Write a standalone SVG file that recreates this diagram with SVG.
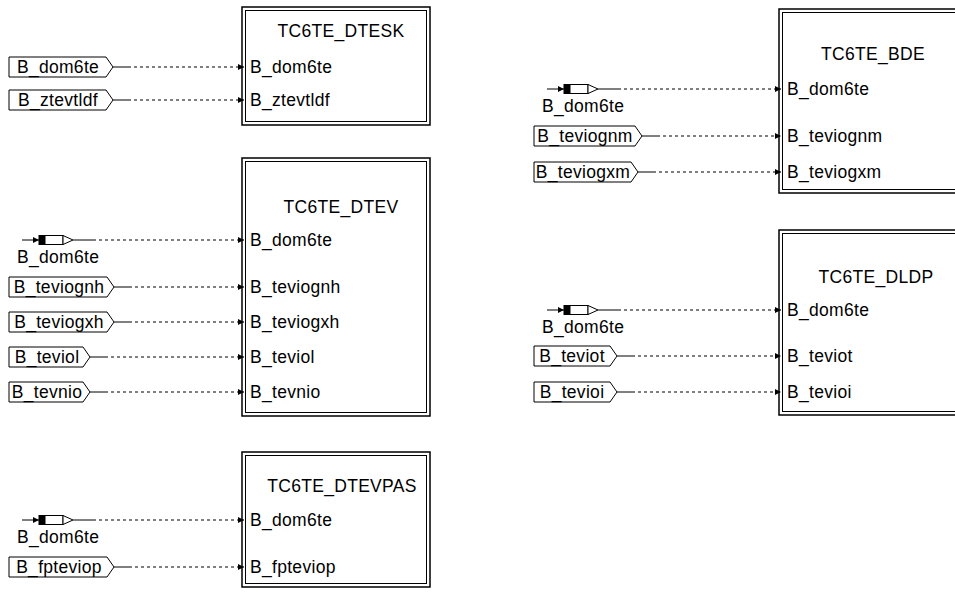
<svg xmlns="http://www.w3.org/2000/svg" width="955" height="592" viewBox="0 0 955 592">
<style>
text{font-family:"Liberation Sans",Arial,sans-serif;font-size:17.5px;letter-spacing:0.3px;fill:#000}
.t{text-anchor:middle}
.m{text-anchor:middle}
.o{fill:#fff;stroke:#000;stroke-width:1.5}
.i{fill:none;stroke:#000;stroke-width:1}
.ib{fill:#fff;stroke:#000;stroke-width:1}
.s{stroke:#000;stroke-width:1;fill:none}
.d{stroke:#000;stroke-width:1;fill:none;stroke-dasharray:3,3;marker-end:url(#ah)}
.blk{fill:#000;stroke:#000;stroke-width:1}
.wht{fill:#fff;stroke:#000;stroke-width:1}
</style>
<defs>
<marker id="ah" markerUnits="userSpaceOnUse" viewBox="0 0 6 6" refX="6" refY="3" markerWidth="6" markerHeight="6" orient="auto"><path d="M0,0 L6,3 L0,6 Z" fill="#000"/></marker>
<marker id="ah2" markerUnits="userSpaceOnUse" viewBox="0 0 6 6" refX="6" refY="3" markerWidth="6" markerHeight="6" orient="auto"><path d="M0,0 L6,3 L0,6 Z" fill="#000"/></marker>
</defs>
<rect width="955" height="592" fill="#fff"/>

<!-- blocks -->
<g id="TC6TE_DTESK">
<rect class="o" x="242" y="7" width="188" height="118"/>
<rect class="i" x="245.5" y="10.5" width="181" height="111"/>
<text class="t" x="341" y="37">TC6TE_DTESK</text>
<text x="250" y="73">B_dom6te</text>
<text x="250" y="106">B_ztevtldf</text>
</g>
<g id="TC6TE_DTEV">
<rect class="o" x="242" y="158" width="188" height="258"/>
<rect class="i" x="245.5" y="161.5" width="181" height="251"/>
<text class="t" x="341" y="213">TC6TE_DTEV</text>
<text x="250" y="246">B_dom6te</text>
<text x="250" y="293">B_teviognh</text>
<text x="250" y="328">B_teviogxh</text>
<text x="250" y="363">B_teviol</text>
<text x="250" y="398">B_tevnio</text>
</g>
<g id="TC6TE_DTEVPAS">
<rect class="o" x="242" y="452" width="188" height="135"/>
<rect class="i" x="245.5" y="455.5" width="181" height="128"/>
<text class="t" x="342" y="492">TC6TE_DTEVPAS</text>
<text x="250" y="526">B_dom6te</text>
<text x="250" y="573">B_fpteviop</text>
</g>
<g id="TC6TE_BDE">
<rect class="o" x="779" y="9" width="188" height="184"/>
<rect class="i" x="782.5" y="12.5" width="181" height="177"/>
<text class="t" x="873" y="60">TC6TE_BDE</text>
<text x="787" y="95">B_dom6te</text>
<text x="787" y="142">B_teviognm</text>
<text x="787" y="178">B_teviogxm</text>
</g>
<g id="TC6TE_DLDP">
<rect class="o" x="779" y="230" width="188" height="185"/>
<rect class="i" x="782.5" y="233.5" width="181" height="178"/>
<text class="t" x="876" y="283">TC6TE_DLDP</text>
<text x="787" y="316">B_dom6te</text>
<text x="787" y="362">B_teviot</text>
<text x="787" y="398">B_tevioi</text>
</g>

<!-- input ports -->
<g id="in_dtesk_dom6te"><path class="ib" d="M9,57 H106 L113,67 L106,77 H9 Z"/><text class="m" x="58" y="73">B_dom6te</text></g>
<g id="in_dtesk_ztevtldf"><path class="ib" d="M9,90 H106 L113,100 L106,110 H9 Z"/><text class="m" x="58" y="106">B_ztevtldf</text></g>

<g id="in_dtev_dom6te"><line class="s" x1="22" y1="240" x2="39" y2="240" marker-end="url(#ah2)"/><rect class="blk" x="39" y="235.5" width="6" height="9"/><rect class="wht" x="45" y="235.5" width="18" height="9"/><path class="wht" d="M63,235.5 L73,240 L63,244.5 Z"/><text x="17" y="263">B_dom6te</text></g>
<g id="in_dtev_teviognh"><path class="ib" d="M9,277 H107 L114,287 L107,297 H9 Z"/><text class="m" x="59" y="293">B_teviognh</text></g>
<g id="in_dtev_teviogxh"><path class="ib" d="M9,312 H107 L114,322 L107,332 H9 Z"/><text class="m" x="59" y="328">B_teviogxh</text></g>
<g id="in_dtev_teviol"><path class="ib" d="M9,347 H83 L90,357 L83,367 H9 Z"/><text class="m" x="47" y="363">B_teviol</text></g>
<g id="in_dtev_tevnio"><path class="ib" d="M9,382 H83 L90,392 L83,402 H9 Z"/><text class="m" x="47" y="398">B_tevnio</text></g>

<g id="in_dtevpas_dom6te"><line class="s" x1="22" y1="520" x2="39" y2="520" marker-end="url(#ah2)"/><rect class="blk" x="39" y="515.5" width="6" height="9"/><rect class="wht" x="45" y="515.5" width="18" height="9"/><path class="wht" d="M63,515.5 L73,520 L63,524.5 Z"/><text x="17" y="543">B_dom6te</text></g>
<g id="in_dtevpas_fpteviop"><path class="ib" d="M9,557 H107 L114,567 L107,577 H9 Z"/><text class="m" x="59" y="573">B_fpteviop</text></g>

<g id="in_bde_dom6te"><line class="s" x1="547" y1="89" x2="564" y2="89" marker-end="url(#ah2)"/><rect class="blk" x="564" y="84.5" width="6" height="9"/><rect class="wht" x="570" y="84.5" width="18" height="9"/><path class="wht" d="M588,84.5 L598,89 L588,93.5 Z"/><text x="542" y="112">B_dom6te</text></g>
<g id="in_bde_teviognm"><path class="ib" d="M534,126 H635 L642,136 L635,146 H534 Z"/><text class="m" x="585" y="142">B_teviognm</text></g>
<g id="in_bde_teviogxm"><path class="ib" d="M534,162 H631 L638,172 L631,182 H534 Z"/><text class="m" x="583" y="178">B_teviogxm</text></g>

<g id="in_dldp_dom6te"><line class="s" x1="547" y1="310" x2="564" y2="310" marker-end="url(#ah2)"/><rect class="blk" x="564" y="305.5" width="6" height="9"/><rect class="wht" x="570" y="305.5" width="18" height="9"/><path class="wht" d="M588,305.5 L598,310 L588,314.5 Z"/><text x="542" y="333">B_dom6te</text></g>
<g id="in_dldp_teviot"><path class="ib" d="M534,346 H610 L617,356 L610,366 H534 Z"/><text class="m" x="572" y="362">B_teviot</text></g>
<g id="in_dldp_tevioi"><path class="ib" d="M534,382 H610 L617,392 L610,402 H534 Z"/><text class="m" x="572" y="398">B_tevioi</text></g>

<!-- connectors -->
<g id="connectors">
<path class="s" d="M113,67 H128 M113,100 H128 M73,240 H93 M114,287 H129 M114,322 H129 M90,357 H105 M90,392 H105 M73,520 H93 M114,567 H129 M598,89 H618 M642,136 H657 M638,172 H653 M598,310 H618 M617,356 H632 M617,392 H632"/>
<line class="d" x1="128" y1="67" x2="244" y2="67"/>
<line class="d" x1="128" y1="100" x2="244" y2="100"/>
<line class="d" x1="93" y1="240" x2="244" y2="240"/>
<line class="d" x1="129" y1="287" x2="244" y2="287"/>
<line class="d" x1="129" y1="322" x2="244" y2="322"/>
<line class="d" x1="105" y1="357" x2="244" y2="357"/>
<line class="d" x1="105" y1="392" x2="244" y2="392"/>
<line class="d" x1="93" y1="520" x2="244" y2="520"/>
<line class="d" x1="129" y1="567" x2="244" y2="567"/>
<line class="d" x1="618" y1="89" x2="781" y2="89"/>
<line class="d" x1="657" y1="136" x2="781" y2="136"/>
<line class="d" x1="653" y1="172" x2="781" y2="172"/>
<line class="d" x1="618" y1="310" x2="781" y2="310"/>
<line class="d" x1="632" y1="356" x2="781" y2="356"/>
<line class="d" x1="632" y1="392" x2="781" y2="392"/>
</g>
</svg>
